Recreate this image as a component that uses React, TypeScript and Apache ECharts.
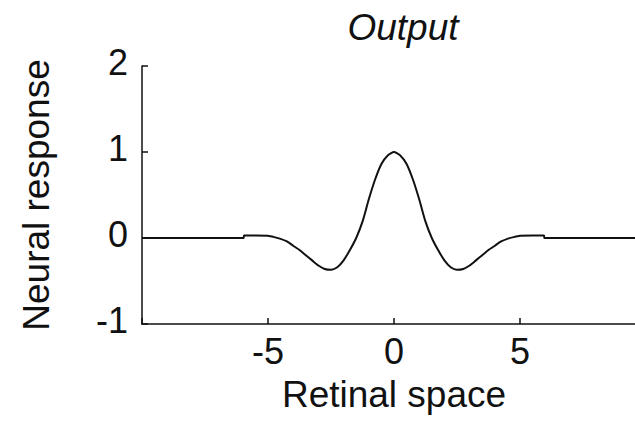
import React, { useEffect, useRef } from "react";
import * as echarts from "echarts";

const titleText = "Output";
const xAxisName = "Retinal space";
const yAxisName = "Neural response";

const xTickValues = [-5, 0, 5];
const yTickValues = [-1, 0, 1, 2];

const retinalX = [
  -10, -5.97, -5.95, -5.5, -5.0, -4.75, -4.5, -4.25, -4.0, -3.75, -3.5, -3.25,
  -3.0, -2.75, -2.5, -2.25, -2.0, -1.75, -1.5, -1.25, -1.0, -0.75, -0.5, -0.25,
  0, 0.25, 0.5, 0.75, 1.0, 1.25, 1.5, 1.75, 2.0, 2.25, 2.5, 2.75, 3.0, 3.25,
  3.5, 3.75, 4.0, 4.25, 4.5, 4.75, 5.0, 5.5, 5.95, 5.97, 10,
];
const neuralResponse = [
  0, 0, 0.03, 0.03, 0.025, 0.01, -0.01, -0.04, -0.09, -0.14, -0.2, -0.26,
  -0.32, -0.36, -0.37, -0.34, -0.26, -0.14, 0.0, 0.19, 0.45, 0.68, 0.86, 0.96,
  1.0, 0.96, 0.86, 0.68, 0.45, 0.19, 0.0, -0.14, -0.26, -0.34, -0.37, -0.36,
  -0.32, -0.26, -0.2, -0.14, -0.09, -0.04, -0.01, 0.01, 0.025, 0.03, 0.03, 0, 0,
];

const FONT = "'Liberation Sans', Arial, Helvetica, sans-serif";

export default function App() {
  const ref = useRef<HTMLDivElement>(null);

  useEffect(() => {
    if (!ref.current) return;
    const chart = echarts.init(ref.current, null, { renderer: "svg" });
    const data = retinalX.map((x, i) => [x, neuralResponse[i]]);
    chart.setOption({
      animation: false,
      backgroundColor: "#ffffff",
      textStyle: { fontFamily: FONT },
      graphic: [
        {
          type: "text",
          x: 403,
          y: 27,
          style: {
            text: titleText,
            fontFamily: FONT,
            fontSize: 37,
            fontStyle: "italic",
            fill: "#111",
            textAlign: "center",
            textVerticalAlign: "middle",
          },
        },
      ],
      grid: {
        left: 142,
        top: 66,
        width: 504,
        height: 258,
        outerBoundsMode: "none",
        containLabel: false,
      },
      xAxis: {
        type: "value",
        min: -10,
        max: 10,
        interval: 5,
        name: xAxisName,
        nameLocation: "middle",
        nameGap: 52,
        nameTextStyle: { fontFamily: FONT, fontSize: 37, color: "#111" },
        axisLine: { show: true, onZero: false, lineStyle: { color: "#111", width: 1.5 } },
        axisTick: { show: true, inside: true, length: 6, lineStyle: { color: "#111", width: 1.5 } },
        axisLabel: {
          margin: 9,
          fontFamily: FONT,
          fontSize: 36,
          color: "#111",
          formatter: (v: number) => (xTickValues.includes(v) ? String(v) : ""),
        },
        splitLine: { show: false },
      },
      yAxis: {
        type: "value",
        min: -1,
        max: 2,
        interval: 1,
        name: yAxisName,
        nameLocation: "middle",
        nameGap: 87,
        nameTextStyle: { fontFamily: FONT, fontSize: 37, color: "#111" },
        axisLine: { show: true, onZero: false, lineStyle: { color: "#111", width: 1.5 } },
        axisTick: { show: true, inside: true, length: 6, lineStyle: { color: "#111", width: 1.5 } },
        axisLabel: {
          margin: 14,
          fontFamily: FONT,
          fontSize: 36,
          color: "#111",
          formatter: (v: number) => (yTickValues.includes(v) ? "{t|" + v + "}" : ""),
          rich: {
            t: {
              fontFamily: FONT,
              fontSize: 36,
              color: "#111",
              lineHeight: 36,
              padding: [0, 0, 8, 0],
            },
          },
        },
        splitLine: { show: false },
      },
      series: [
        {
          type: "line",
          data,
          showSymbol: false,
          symbol: "none",
          smooth: 0.2,
          lineStyle: { color: "#111", width: 2 },
          clip: false,
        },
      ],
    });
    return () => chart.dispose();
  }, []);

  return (
    <div
      ref={ref}
      style={{ position: "absolute", left: 0, top: 0, width: 635, height: 421 }}
    />
  );
}
